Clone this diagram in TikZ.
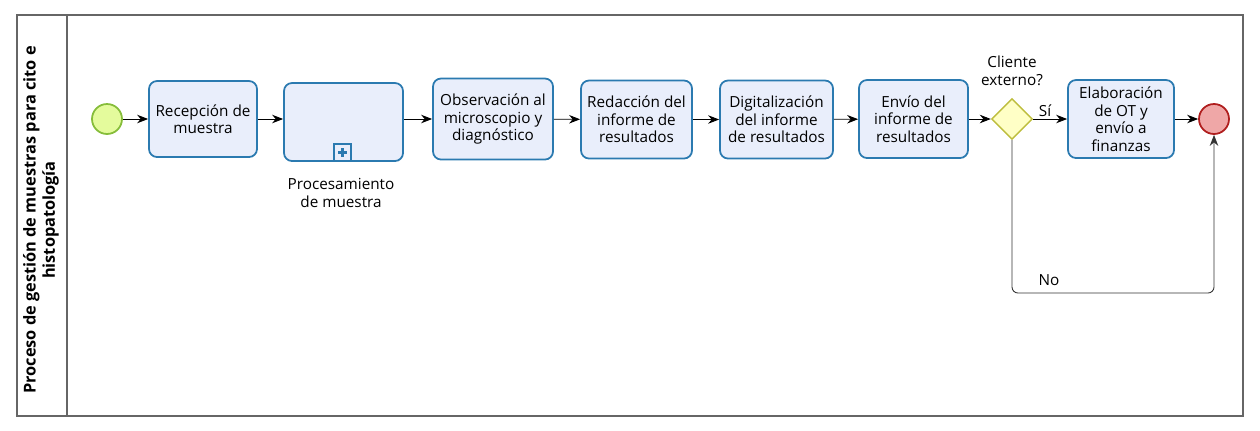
\documentclass[tikz,border=0pt]{standalone}
\usepackage{fontspec}
\setmainfont{Open Sans}
\usetikzlibrary{shapes.geometric,arrows.meta}

\definecolor{taskfill}{HTML}{E9EEFB}
\definecolor{taskline}{HTML}{2B7AB0}
\definecolor{startfill}{HTML}{E4FB9C}
\definecolor{startline}{HTML}{86BD3A}
\definecolor{endfill}{HTML}{EFA7A7}
\definecolor{endline}{HTML}{B01E1E}
\definecolor{gwfill}{HTML}{FFFFC6}
\definecolor{gwline}{HTML}{BDBD3C}

\begin{document}
\begin{tikzpicture}[x=0.2mm, y=-0.2mm,
  font=\fontsize{8.7}{10}\selectfont,
  task/.style={draw=taskline, fill=taskfill, line width=1pt, rounded corners=1.6mm,
    align=center, inner sep=0pt, minimum height=15.6mm},
  event/.style={draw, circle, line width=1pt, minimum size=6mm, inner sep=0pt},
  gate/.style={draw=gwline, fill=gwfill, diamond, line width=0.8pt, minimum size=8.2mm, inner sep=0pt},
  flow/.style={-{Stealth[length=2.2mm,width=1.7mm]}, line width=0.5pt},
  lbl/.style={align=center, inner sep=1pt}]

\useasboundingbox (0,0) rectangle (1260,430);

% ---------- Pool and lane ----------
\draw[black!60, line width=0.6pt] (17,15) rectangle (1243,416);
\draw[black!60, line width=0.6pt] (67,15) -- (67,416);
\node[lbl, rotate=90, font=\fontsize{9.3}{11}\selectfont\bfseries] (lane) at (41,220)
  {Proceso de gestión de muestras para cito e\\histopatología};

% ---------- Events, tasks and gateway ----------
\node[event, draw=startline, fill=startfill] (start) at (107,119) {};
\node[task, minimum width=21.6mm, minimum height=15.2mm] (rec) at (203,119) {Recepción de\\muestra};
\node[task, minimum width=23.8mm] (proc) at (343.5,122) {};
\node[draw=taskline, fill=taskfill, line width=1pt, minimum size=3.3mm, inner sep=0pt] (plus) at (342.5,152.5) {};
\draw[taskline, line width=1.6pt] (plus.center) ++(-4.5,0) -- ++(9,0);
\draw[taskline, line width=1.6pt] (plus.center) ++(0,-4.5) -- ++(0,9);
\node[lbl] (proctxt) at (341,193) {Procesamiento\\de muestra};
\node[task, minimum width=24mm, minimum height=16.2mm] (obs) at (493,119) {Observación al\\microscopio y\\diagnóstico};
\node[task, minimum width=22.2mm] (red) at (636.5,119.5) {Redacción del\\informe de\\resultados};
\node[task, minimum width=22.6mm] (dig) at (776.5,119.5) {Digitalización\\del informe\\de resultados};
\node[task, minimum width=21.8mm] (env) at (913.5,119) {Envío del\\informe de\\resultados};
\node[gate] (gw) at (1012,119) {};
\node[lbl] (gwtxt) at (1012,71) {Cliente\\externo?};
\node[task, minimum width=21.2mm] (elab) at (1121,119) {Elaboración\\de OT y\\envío a\\finanzas};
\node[event, draw=endline, fill=endfill] (stop) at (1214,119) {};

% ---------- Sequence flows ----------
\draw[flow] (start) -- (rec);
\draw[flow] (rec.east) -- (rec.east -| proc.west);
\draw[flow] (proc.east |- obs.west) -- (obs.west);
\draw[flow] (obs) -- (red);
\draw[flow] (red) -- (dig);
\draw[flow] (dig) -- (env);
\draw[flow] (env) -- (gw);
\draw[flow] (gw) -- node[lbl, above, pos=0.35] (si) {Sí} (elab);
\draw[flow] (elab) -- (stop);

\coordinate (nocorner) at (1214,293);
\draw[flow, black!80, rounded corners=1.2mm] (gw.south) |- (nocorner) -- (stop.south);
\node[lbl] (no) at (1049,280) {No};

\end{tikzpicture}
\end{document}
